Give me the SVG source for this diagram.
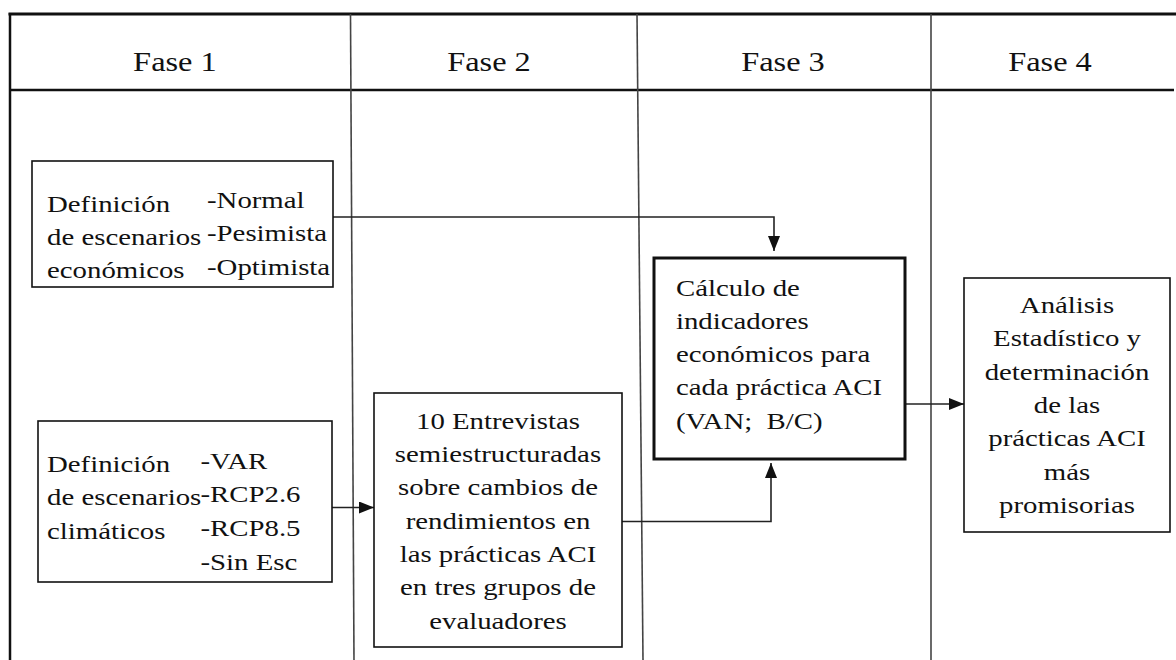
<svg xmlns="http://www.w3.org/2000/svg" width="1176" height="660" viewBox="0 0 1176 660">
<defs>
<style>
.t{font-family:'Liberation Serif','DejaVu Serif',serif;font-size:24px;fill:#111}
.h{font-family:'Liberation Serif','DejaVu Serif',serif;font-size:27px;fill:#111;text-anchor:middle}
.c{text-anchor:middle}
.box{fill:#fff;stroke:#111;stroke-width:1.6}
.boxb{fill:#fff;stroke:#111;stroke-width:3}
.frame{stroke:#111;fill:none}
.div{stroke:#444;stroke-width:1.6;fill:none}
.con{stroke:#222;stroke-width:1.6;fill:none;marker-end:url(#ah)}
</style>
<marker id="ah" markerUnits="userSpaceOnUse" markerWidth="15" markerHeight="12" refX="15" refY="6" orient="auto">
<path d="M0,0 L15,6 L0,12 z" fill="#111"/>
</marker>
</defs>
<rect width="1176" height="660" fill="#fff"/>

<g id="table">
<line class="frame" x1="8.5" y1="14" x2="1176" y2="14" stroke-width="3"/>
<line class="frame" x1="10" y1="90" x2="1174" y2="90" stroke-width="2.5"/>
<line class="frame" x1="10" y1="13" x2="10" y2="660" stroke-width="2.5"/>
<line class="div" x1="350.5" y1="14" x2="354" y2="660"/>
<line class="div" x1="637" y1="14" x2="643" y2="660"/>
<line class="div" x1="931" y1="14" x2="931" y2="660"/>
<g transform="scale(1.2 1)">
<text class="h" x="145.8" y="71">Fase 1</text>
<text class="h" x="407.5" y="71">Fase 2</text>
<text class="h" x="652.5" y="71">Fase 3</text>
<text class="h" x="875" y="71">Fase 4</text>
</g>
</g>

<g id="connectors">
<path class="con" d="M333,217 H774 V251"/>
<path class="con" d="M332,507.5 H374"/>
<path class="con" d="M622,521.5 H771 V463"/>
<path class="con" d="M905,404 H964"/>
</g>

<g id="escenarios-economicos">
<rect class="box" x="32" y="161" width="301" height="126"/>
<g transform="scale(1.2 1)">
<text class="t" x="39.2" y="212">Definición</text>
<text class="t" x="39.2" y="245">de escenarios</text>
<text class="t" x="39.2" y="278">económicos</text>
<text class="t" x="172.5" y="208">-Normal</text>
<text class="t" x="172.5" y="241.5">-Pesimista</text>
<text class="t" x="172.5" y="275">-Optimista</text>
</g>
</g>

<g id="escenarios-climaticos">
<rect class="box" x="38" y="421" width="294" height="161"/>
<g transform="scale(1.2 1)">
<text class="t" x="39.2" y="472">Definición</text>
<text class="t" x="39.2" y="505.5">de escenarios</text>
<text class="t" x="39.2" y="539">climáticos</text>
<text class="t" x="167.1" y="469">-VAR</text>
<text class="t" x="167.1" y="502.5">-RCP2.6</text>
<text class="t" x="167.1" y="536">-RCP8.5</text>
<text class="t" x="167.1" y="570.5">-Sin Esc</text>
</g>
</g>

<g id="entrevistas">
<rect class="box" x="374" y="393" width="248" height="254"/>
<g transform="scale(1.2 1)">
<text class="t c" x="415" y="429">10 Entrevistas</text>
<text class="t c" x="415" y="462">semiestructuradas</text>
<text class="t c" x="415" y="495.5">sobre cambios de</text>
<text class="t c" x="415" y="529">rendimientos en</text>
<text class="t c" x="415" y="562">las prácticas ACI</text>
<text class="t c" x="415" y="595.5">en tres grupos de</text>
<text class="t c" x="415" y="629">evaluadores</text>
</g>
</g>

<g id="calculo">
<rect class="boxb" x="654" y="258" width="251" height="201"/>
<g transform="scale(1.2 1)">
<text class="t" x="563.3" y="296">Cálculo de</text>
<text class="t" x="563.3" y="329">indicadores</text>
<text class="t" x="563.3" y="362">económicos para</text>
<text class="t" x="563.3" y="395.5">cada práctica ACI</text>
<text class="t" x="563.3" y="429" xml:space="preserve">(VAN;  B/C)</text>
</g>
</g>

<g id="analisis">
<rect class="box" x="964" y="278" width="206" height="254"/>
<g transform="scale(1.2 1)">
<text class="t c" x="889.2" y="313">Análisis</text>
<text class="t c" x="889.2" y="346">Estadístico y</text>
<text class="t c" x="889.2" y="380">determinación</text>
<text class="t c" x="889.2" y="413">de las</text>
<text class="t c" x="889.2" y="446">prácticas ACI</text>
<text class="t c" x="889.2" y="480">más</text>
<text class="t c" x="889.2" y="513">promisorias</text>
</g>
</g>
</svg>
